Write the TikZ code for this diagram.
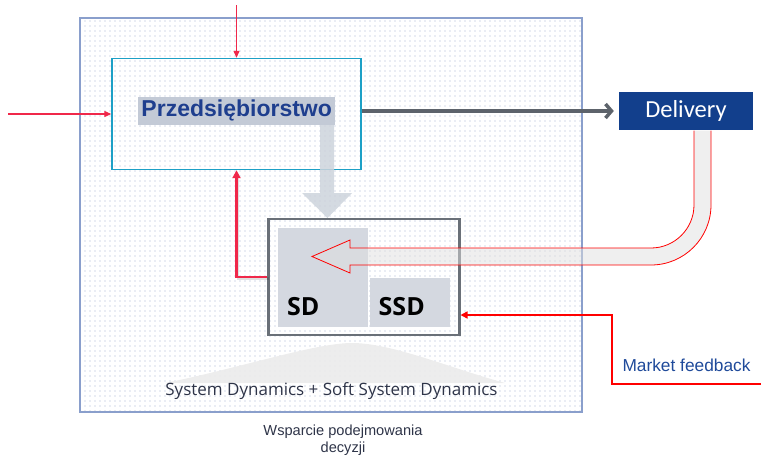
\documentclass[tikz,border=0pt]{standalone}
\usepackage{fontspec}
\newfontfamily\arialf{Liberation Sans}
\newfontfamily\calf{Carlito}
\newfontfamily\osf{Open Sans}
\usetikzlibrary{arrows.meta,patterns.meta}
\definecolor{outerline}{HTML}{8A9FCC}
\definecolor{dotc}{HTML}{A6B2D0}
\definecolor{cyanline}{HTML}{1CA0C6}
\definecolor{hilite}{HTML}{C3CAD6}
\definecolor{navytext}{HTML}{1E3E8E}
\definecolor{delivblue}{HTML}{123F8C}
\definecolor{arrowgray}{HTML}{5D636B}
\definecolor{blockgray}{HTML}{CDD3DC}
\definecolor{sdframe}{HTML}{6A7078}
\definecolor{sdfill}{HTML}{D4D8E0}
\definecolor{redpink}{HTML}{F0284A}
\definecolor{darktext}{HTML}{2E3448}
\definecolor{mftext}{HTML}{1F4A9A}
\tikzset{
  box/.style={draw, rectangle, inner sep=0pt},
  redarrow/.style={draw=redpink, line width=1.2pt, -{Triangle[length=7pt,width=6pt]}},
  redthick/.style={draw=redpink, line width=2.2pt, -{Triangle[length=8pt,width=8pt]}},
  mfline/.style={draw=red, line width=1.5pt},
  mfarrow/.style={mfline, -{Triangle[length=7pt,width=7pt]}},
  txt/.style={inner sep=0pt}
}
\begin{document}
\begin{tikzpicture}[x=1pt,y=-1pt]
\useasboundingbox (0,0) rectangle (761,456);
% outer frame
\node[box, draw=outerline, line width=1.3pt, pattern={Dots[distance=5pt,radius=0.55pt]}, pattern color=dotc,
      minimum width=502pt, minimum height=394pt] (outer) at (331,215) {};
% mound
\fill[gray!16, opacity=0.9] (165,383) .. controls (240,368) and (315,343) .. (352,343)
   .. controls (392,343) and (450,368) .. (505,383) -- cycle;
% company box
\node[box, draw=cyanline, line width=1.4pt, minimum width=249pt, minimum height=111pt] (company) at (236.5,114) {};
\node[txt, fill=hilite, minimum width=197pt, minimum height=28.5pt, text=navytext,
      font=\arialf\bfseries\fontsize{23}{26}\selectfont] (title) at (236.7,110.8) {Przedsiębiorstwo};
% down block arrow
\fill[blockgray, opacity=0.85] (320,125) -- (320,193) -- (302,193) -- (327.5,218) -- (352,193) -- (334,193) -- (334,125) -- cycle;
% delivery
\node[box, draw=none, fill=delivblue, minimum width=134pt, minimum height=38pt, text=white,
      font=\calf\fontsize{24.5}{26}\selectfont] (delivery) at (686,111) {Delivery};
\draw[arrowgray, line width=3.5pt, -{Straight Barb[length=6pt,width=14pt]}, shorten >=5pt]
   (company.east |- delivery.west) -- (delivery.west);
% SD area
\node[box, draw=none, fill=sdfill, minimum width=90pt, minimum height=98.7pt] (sd) at (322.7,277.3) {};
\node[box, draw=none, fill=sdfill, minimum width=80pt, minimum height=49pt] (ssd) at (410,302.2) {};
\node[box, draw=sdframe, line width=2.4pt, minimum width=191pt, minimum height=116pt] (sdbox) at (363.8,277) {};
\node[txt, anchor=base west, font=\osf\bfseries\fontsize{25}{28}\selectfont] (sdtext) at (287,315) {SD};
\node[txt, anchor=base west, font=\osf\bfseries\fontsize{25}{28}\selectfont] (ssdtext) at (378.5,315) {SSD};
% U-shaped block arrow from delivery back to SD
\filldraw[draw=red, line width=0.8pt, fill=gray!25, fill opacity=0.5]
  (694,130.5) -- (694,205) .. controls (694,228.7) and (674.7,248) .. (651,248)
  -- (350,248) -- (350,240) -- (312,256.5) -- (350,273) -- (350,265) -- (651,265)
  .. controls (684.1,265) and (711,238.1) .. (711,205) -- (711,130.5);
% red connectors
\coordinate (topin) at (236.5,5);
\coordinate (leftin) at (8,114);
\draw[redarrow] (topin) -- (company.north);
\draw[redarrow] (leftin) -- (company.west);
\draw[black, opacity=0.12, line width=2.6pt] ([shift={(1.5,1.5)}]sdbox.west) -| ([shift={(1.5,8)}]company.south);
\draw[redthick] (sdbox.west) -| (company.south);
% market feedback
\coordinate (mfstart) at (761,384);
\coordinate (mfcorner) at (612,384);
\coordinate (mfturn) at (612,315);
\draw[mfarrow] (mfstart) -- (mfcorner) -- (mfturn) -- (sdbox.east |- mfturn);
\node[txt, anchor=base, text=mftext, font=\arialf\fontsize{17.3}{20}\selectfont] (mf) at (686.5,371.7) {Market feedback};
% captions
\node[txt, anchor=base, text=darktext, font=\osf\fontsize{17}{20}\selectfont] (sysdyn) at (331.5,395.7) {System Dynamics + Soft System Dynamics};
\node[txt, anchor=base, text=darktext, align=center, font=\arialf\fontsize{14.6}{16.5}\selectfont] (wsp) at (343,452) {Wsparcie podejmowania\\decyzji};
\end{tikzpicture}
\end{document}
